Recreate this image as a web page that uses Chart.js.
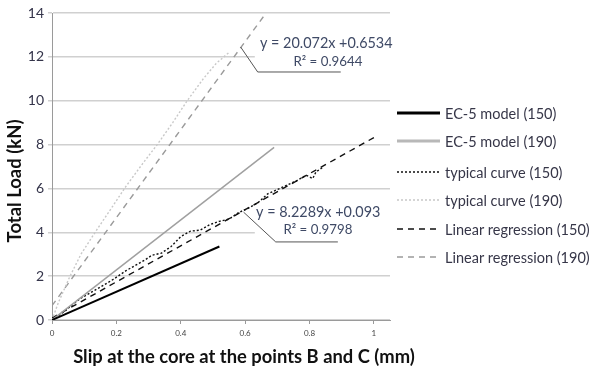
<!DOCTYPE html>
<html>
<head>
<meta charset="utf-8">
<script src="https://cdn.jsdelivr.net/npm/chart.js@4/dist/chart.umd.min.js"></script>
<style>
  html, body { margin: 0; padding: 0; background: #fff; }
  #wrap { width: 597px; height: 372px; }
</style>
</head>
<body>
<div id="wrap"><canvas id="c"></canvas></div>
<script>
// Slip (mm) / load (kN) series
const ec5_150 = [[0, 0], [0.52, 3.35]];
const ec5_190 = [[0, 0], [0.69, 7.87]];
const typical_150 = [
  [0, 0], [0.03, 0.3], [0.06, 0.65], [0.09, 1.0], [0.12, 1.25], [0.15, 1.5], [0.19, 1.85],
  [0.23, 2.25], [0.26, 2.5], [0.29, 2.75], [0.31, 2.95], [0.34, 3.05], [0.37, 3.35],
  [0.40, 3.8], [0.43, 4.05], [0.46, 4.1], [0.49, 4.35], [0.52, 4.5], [0.55, 4.6],
  [0.58, 4.9], [0.61, 5.1], [0.64, 5.35], [0.67, 5.75], [0.70, 5.95], [0.73, 6.15],
  [0.76, 6.35], [0.79, 6.6], [0.81, 6.45], [0.82, 6.75], [0.84, 6.95]
];
const typical_190 = [
  [0, 0], [0.02, 0.8], [0.056, 2.0], [0.09, 3.0], [0.134, 4.0], [0.18, 5.0], [0.23, 6.1],
  [0.28, 7.1], [0.327, 8.0], [0.375, 9.0], [0.42, 10.0], [0.47, 11.0], [0.51, 11.7], [0.55, 12.2]
];
const regression_150 = [[0, 0.093], [1.0, 8.32]];
const regression_190 = [[0, 0.6534], [0.665, 14.0]];

const seriesLabels = [
  'EC-5 model (150)', 'EC-5 model (190)', 'typical curve (150)',
  'typical curve (190)', 'Linear regression (150)', 'Linear regression (190)'
];
const xTicks = [0, 0.2, 0.4, 0.6, 0.8, 1];
const yTicks = [0, 2, 4, 6, 8, 10, 12, 14];

// Trend-line equations with their leader lines, in data units
const trendNotes = [
  { lines: ['y = 20.072x +0.6534', 'R² = 0.9644'], textAt: [[0.852, 12.63], [0.857, 11.76]],
    leader: [[0.586, 12.45], [0.639, 11.31], [0.897, 11.31]], box: [0.63, 1.06, 13.0, 11.25] },
  { lines: ['y = 8.2289x +0.093', 'R² = 0.9798'], textAt: [[0.827, 4.92], [0.826, 4.10]],
    leader: [[0.595, 4.92], [0.695, 3.56], [0.888, 3.56]], box: [0.63, 1.06, 5.5, 3.45] }
];

const xTitle = 'Slip at the core at the points B and C (mm)';
const yTitle = 'Total Load (kN)';

const toXY = arr => arr.map(p => ({ x: p[0], y: p[1] }));

const styles = [
  { color: '#000000', width: 2, dash: [] },
  { color: '#a0a0a0', width: 1.5, dash: [] },
  { color: '#111111', width: 1.4, dash: [2, 2] },
  { color: '#c8c8c8', width: 1.4, dash: [2, 2] },
  { color: '#111111', width: 1.4, dash: [6, 5] },
  { color: '#9a9a9a', width: 1.4, dash: [6, 5] }
];
const legendColors = ['#000000', '#b8b8b8', '#111111', '#c8c8c8', '#111111', '#9a9a9a'];
const seriesData = [ec5_150, ec5_190, typical_150, typical_190, regression_150, regression_190];

const datasets = seriesData.map((d, i) => ({
  label: seriesLabels[i],
  data: toXY(d),
  showLine: true,
  pointRadius: 0,
  borderColor: styles[i].color,
  borderWidth: styles[i].width,
  borderDash: styles[i].dash,
  tension: 0,
  fill: false
}));

const FONT = 'Lato, "Open Sans", sans-serif';

// font size that makes a string span the given width
function fitFont(ctx, text, weight, width) {
  ctx.font = weight + ' 20px ' + FONT;
  const w = ctx.measureText(text).width;
  return weight + ' ' + (20 * width / w).toFixed(2) + 'px ' + FONT;
}

const decor = {
  id: 'decor',
  beforeDatasetsDraw(chart) {
    const { ctx, scales: { x, y } } = chart;
    ctx.save();
    ctx.fillStyle = '#ffffff';
    trendNotes.forEach(n => {
      const [x0, x1, y0, y1] = n.box;
      const l = x.getPixelForValue(x0), r = x.getPixelForValue(x1);
      const t = y.getPixelForValue(y0), b = y.getPixelForValue(y1);
      ctx.fillRect(l, t, r - l, b - t);
    });
    ctx.restore();
  },
  afterDatasetsDraw(chart) {
    const { ctx, scales: { x, y } } = chart;
    ctx.save();
    // trend-line notes
    trendNotes.forEach(n => {
      ctx.strokeStyle = '#555555';
      ctx.lineWidth = 1;
      ctx.setLineDash([]);
      ctx.beginPath();
      n.leader.forEach((p, k) => {
        const px = x.getPixelForValue(p[0]), py = y.getPixelForValue(p[1]);
        if (k === 0) ctx.moveTo(px, py); else ctx.lineTo(px, py);
      });
      ctx.stroke();
      ctx.fillStyle = '#3f4a66';
      ctx.textAlign = 'center';
      ctx.textBaseline = 'middle';
      n.lines.forEach((s, k) => {
        ctx.font = (k === 0 ? '14.4px ' : '13.3px ') + FONT;
        ctx.fillText(s, x.getPixelForValue(n.textAt[k][0]), y.getPixelForValue(n.textAt[k][1]));
      });
    });

    // legend on the right
    const lx0 = 397, lx1 = 440, tx = 445;
    const rows = [113, 141, 172, 200, 229, 257];
    chart.data.datasets.forEach((ds, i) => {
      const ry = rows[i];
      ctx.strokeStyle = legendColors[i];
      ctx.lineWidth = i < 2 ? 3 : 1.6;
      ctx.setLineDash(ds.borderDash || []);
      ctx.beginPath();
      ctx.moveTo(lx0, ry);
      ctx.lineTo(lx1, ry);
      ctx.stroke();
      ctx.setLineDash([]);
      ctx.fillStyle = '#363648';
      ctx.font = '14.5px ' + FONT;
      ctx.textAlign = 'left';
      ctx.textBaseline = 'middle';
      ctx.fillText(ds.label, tx, ry + 1);
    });

    // axis titles
    ctx.fillStyle = '#111111';
    ctx.textAlign = 'center';
    ctx.textBaseline = 'middle';
    ctx.font = fitFont(ctx, xTitle, 'bold', 342);
    ctx.fillText(xTitle, 244, 357);
    ctx.save();
    ctx.translate(15, 181);
    ctx.rotate(-Math.PI / 2);
    ctx.font = fitFont(ctx, yTitle, 'bold', 123);
    ctx.fillText(yTitle, 0, 0);
    ctx.restore();
    ctx.restore();
  }
};

new Chart(document.getElementById('c'), {
  type: 'scatter',
  data: { datasets },
  options: {
    responsive: true,
    maintainAspectRatio: false,
    animation: false,
    layout: { padding: { top: 13, right: 207, left: 0, bottom: 0 } },
    plugins: { legend: { display: false }, tooltip: { enabled: false } },
    scales: {
      x: {
        type: 'linear',
        min: 0, max: 1.05,
        afterBuildTicks: s => { s.ticks = xTicks.map(v => ({ value: v })); },
        afterFit: s => { s.height = 52; },
        border: { color: '#9a9a9a', width: 1 },
        grid: { drawOnChartArea: false, drawTicks: true, tickLength: 4, color: '#9a9a9a' },
        ticks: {
          padding: 5,
          color: '#444444',
          font: { family: FONT, size: 8 },
          maxRotation: 0,
          callback: v => String(v)
        }
      },
      y: {
        type: 'linear',
        min: 0, max: 14,
        afterBuildTicks: s => { s.ticks = yTicks.map(v => ({ value: v })); },
        afterFit: s => { s.width = 52; },
        border: { color: '#9a9a9a', width: 1 },
        grid: { color: '#d0d0d0', lineWidth: 1.5, drawTicks: true, tickLength: 4 },
        ticks: {
          padding: 4,
          color: '#34344a',
          font: { family: FONT, size: 14 },
          callback: v => String(v)
        }
      }
    }
  },
  plugins: [decor]
});
</script>
</body>
</html>
